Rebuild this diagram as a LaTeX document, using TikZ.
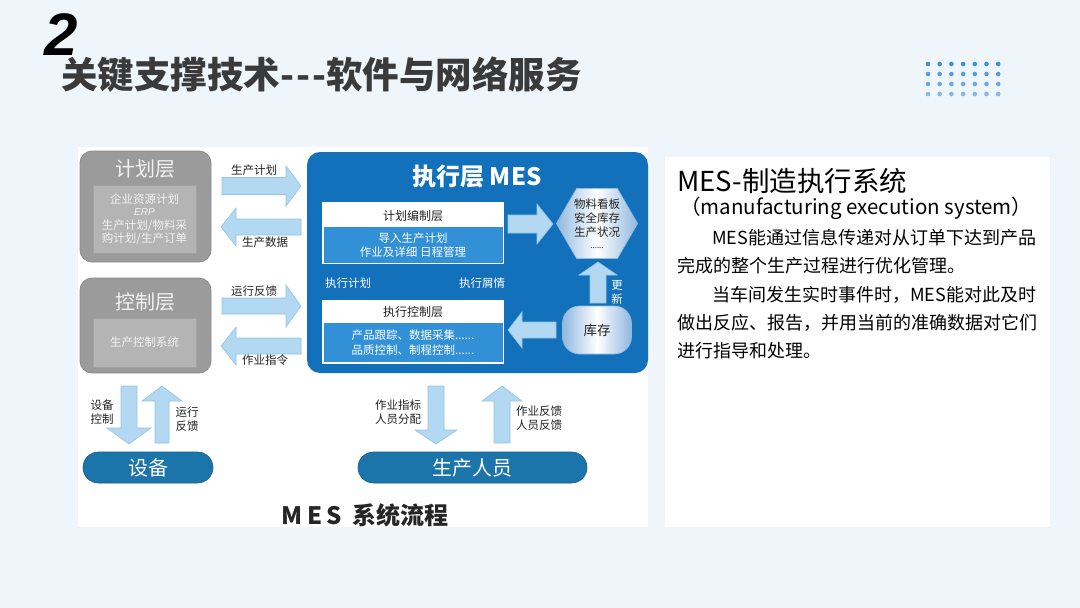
\documentclass[tikz,border=0pt]{standalone}
\usepackage{fontspec}
\setmainfont{Noto Sans CJK SC}
\newfontfamily\numfont{Liberation Sans}
\usetikzlibrary{shapes.geometric}
\definecolor{bg}{HTML}{EEF5FB}
\definecolor{ttlc}{HTML}{3A3A3A}
\definecolor{boxg}{HTML}{9B9B9B}
\definecolor{boxge}{HTML}{8C8C8C}
\definecolor{inng}{HTML}{B4B4B4}
\definecolor{innge}{HTML}{A2A2A2}
\definecolor{gtxt}{HTML}{F2F2F2}
\definecolor{mesblue}{HTML}{1271BA}
\definecolor{bandblue}{HTML}{3190D6}
\definecolor{arrf}{HTML}{B3D8F2}
\definecolor{arre}{HTML}{93C4E8}
\definecolor{pillblue}{HTML}{1B74AA}
\definecolor{pille}{HTML}{135F8E}
\definecolor{hexe}{HTML}{8FB8DF}
\definecolor{lblc}{HTML}{222222}
\definecolor{dotd}{HTML}{3A8EE6}
\definecolor{dotl}{HTML}{8CBBEA}
\newcommand\fsz[2]{\fontsize{#1}{#2}\selectfont}
% block arrows
\newcommand\RArr[6]{\filldraw[arr] (#1,{#3-#4}) -- ({#2-#6},{#3-#4}) -- ({#2-#6},{#3-#5}) -- (#2,#3) -- ({#2-#6},{#3+#5}) -- ({#2-#6},{#3+#4}) -- (#1,{#3+#4}) -- cycle;}
\newcommand\LArr[6]{\filldraw[arr] (#1,#3) -- ({#1+#6},{#3-#5}) -- ({#1+#6},{#3-#4}) -- (#2,{#3-#4}) -- (#2,{#3+#4}) -- ({#1+#6},{#3+#4}) -- ({#1+#6},{#3+#5}) -- cycle;}
\newcommand\DArr[6]{\filldraw[arr] ({#1-#4},#2) -- ({#1+#4},#2) -- ({#1+#4},{#3-#6}) -- ({#1+#5},{#3-#6}) -- (#1,#3) -- ({#1-#5},{#3-#6}) -- ({#1-#4},{#3-#6}) -- cycle;}
\newcommand\UArr[6]{\filldraw[arr] ({#1-#4},#2) -- ({#1+#4},#2) -- ({#1+#4},{#3+#6}) -- ({#1+#5},{#3+#6}) -- (#1,#3) -- ({#1-#5},{#3+#6}) -- ({#1-#4},{#3+#6}) -- cycle;}
\begin{document}
\begin{tikzpicture}[x=1pt,y=-1pt,
  arr/.style={fill=arrf,draw=arre,line width=0.6pt},
  outerg/.style={rectangle,rounded corners=12pt,fill=boxg,draw=boxge,line width=0.8pt,inner sep=0pt},
  innerg/.style={rectangle,fill=inng,draw=innge,line width=0.8pt,inner sep=0pt,text=gtxt,align=center,font=\fsz{11.5}{13.5}},
  grayttl/.style={text=gtxt,font=\fsz{20}{22},inner sep=0pt},
  lbl/.style={text=lblc,font=\fsz{11.5}{14},inner sep=0pt,align=center},
  wlbl/.style={text=white,font=\fsz{11.5}{14},inner sep=0pt,align=center},
  whitebox/.style={rectangle,fill=white,draw=none,inner sep=0pt},
  band/.style={rectangle,fill=bandblue,inner sep=0pt,text=white,align=center,font=\fsz{11.5}{14.5}},
  pill/.style={rectangle,rounded corners=15.5pt,fill=pillblue,draw=pille,line width=0.6pt,text=white,font=\fsz{20}{22},inner sep=0pt,minimum height=31pt},
  bodytxt/.style={text=black,font=\fsz{18}{20},inner sep=0pt,anchor=west}
]
\useasboundingbox (0,0) rectangle (1080,608);
\fill[bg] (0,0) rectangle (1080,608);
% dots
\foreach \c in {0,...,6}{\foreach \r in {0,...,3}{
  \pgfmathsetmacro\pc{100-\r*30}
  \fill[dotd!\pc!dotl] ({928+\c*11.7},{64+\r*10}) circle (2.3);}}
% title
\node[inner sep=0pt,text=black,font=\numfont\bfseries\itshape\fsz{60}{60}] (num) at (61,35) {2};
\node[inner sep=0pt,anchor=west,text=ttlc,font=\bfseries\fsz{36.5}{38}] (title) at (61,75) {关键支撑技术-\kern2pt-\kern2pt-软件与网络服务};
% panels
\fill[white] (78,147) rectangle (648,527);
\fill[white] (665,157) rectangle (1050,527);
% planning layer
\node[outerg,minimum width=131pt,minimum height=111pt] (plan) at (145.5,206.5) {};
\node[grayttl] (planT) at (145,169) {计划层};
\node[innerg,minimum width=103pt,minimum height=68pt] (planIn) at (144.5,219) {企业资源计划\\[-1pt]{\numfont\itshape\fsz{10}{11}ERP}\\生产计划/物料采\\购计划/生产订单};
% control layer
\node[outerg,minimum width=131pt,minimum height=95pt] (ctl) at (145.5,325.5) {};
\node[grayttl] (ctlT) at (145,302) {控制层};
\node[innerg,minimum width=103pt,minimum height=49pt] (ctlIn) at (144.5,342.5) {生产控制系统};
% arrows between left and MES
\RArr{222}{301}{186}{8.5}{20}{15}
\node[lbl] (l1) at (254,170) {生产计划};
\LArr{221}{301}{227}{8}{19}{15}
\node[lbl] (l2) at (265,242) {生产数据};
\RArr{222}{301}{306}{8}{21}{15}
\node[lbl] (l3) at (254,291) {运行反馈};
\LArr{221}{301}{346}{8}{19}{15}
\node[lbl] (l4) at (265,360) {作业指令};
% MES box
\node[rectangle,rounded corners=13pt,fill=mesblue,inner sep=0pt,minimum width=341pt,minimum height=221pt] (mes) at (477.5,262.5) {};
\node[inner sep=0pt,text=white,font=\bfseries\fsz{24}{26}] (mesT) at (477,177) {执行层 MES};
\node[whitebox,minimum width=182pt,minimum height=62pt] (pe) at (413,233) {};
\node[lbl,font=\fsz{12}{14}] (peT) at (413,216) {计划编制层};
\node[band,minimum width=179pt,minimum height=36pt] (peB) at (413,245) {导入生产计划\\作业及详细 日程管理};
\node[wlbl] (ep) at (348,283) {执行计划};
\node[wlbl] (es) at (482,283) {执行屑情};
\node[whitebox,minimum width=182pt,minimum height=64pt] (ec) at (413,332) {};
\node[lbl,font=\fsz{12}{14}] (ecT) at (413,312) {执行控制层};
\node[band,minimum width=179pt,minimum height=39pt] (ecB) at (413,342.5) {产品跟踪、数据采集......\\品质控制、制程控制......};
% hexagon and stock
\node[regular polygon,regular polygon sides=6,minimum size=80pt,inner sep=0pt,draw=hexe,line width=0.6pt,left color=hexe,right color=hexe,middle color=white,text=lblc,align=center,font=\fsz{11.5}{14}] (hex) at (597,223.5) {物料看板\\安全库存\\生产状况\\[-2pt]{\fsz{8}{8}......}};
\node[rectangle,rounded corners=17pt,minimum width=69pt,minimum height=48pt,inner sep=0pt,draw=hexe,line width=0.6pt,left color=hexe,right color=hexe,middle color=white,text=lblc,font=\fsz{13.5}{15}] (stock) at (597,330) {库存};
\RArr{508}{553}{224}{9}{20}{16}
\UArr{598}{303}{262}{8}{19}{13}
\node[wlbl] (upd) at (617,292) {更\\新};
\LArr{508}{556}{330}{8}{18}{14}
% bottom
\DArr{129}{386}{444}{8}{22}{16}
\UArr{162}{443}{386}{7}{20}{15}
\node[lbl] (b1) at (102,412.5) {设备\\控制};
\node[lbl] (b2) at (187,419.5) {运行\\反馈};
\DArr{436}{386}{444}{8}{21}{14}
\UArr{502}{443}{386}{8}{20}{15}
\node[lbl] (b3) at (398,412.5) {作业指标\\人员分配};
\node[lbl] (b4) at (539,418.5) {作业反馈\\人员反馈};
\node[pill,minimum width=130pt] (dev) at (148,467.5) {设备};
\node[pill,minimum width=229pt] (staff) at (472.5,467.5) {生产人员};
\node[inner sep=0pt,text=black!85,font=\bfseries\fsz{24}{26}] (flow) at (365,515) {M\hspace{4.5pt}E\hspace{4.5pt}S\hspace{10pt}系统流程};
% right text
\node[inner sep=0pt,anchor=west,text=black,font=\fsz{27.5}{29}] (rt1) at (677,181) {MES-制造执行系统};
\node[inner sep=0pt,anchor=west,text=black,font=\fsz{20.5}{22}] (rt2) at (680,208) {（manufacturing execution system）};
\node[bodytxt] (p1) at (712,238) {MES能通过信息传递对从订单下达到产品};
\node[bodytxt] (p2) at (677,266) {完成的整个生产过程进行优化管理。};
\node[bodytxt] (p3) at (712,295) {当车间发生实时事件时，MES能对此及时};
\node[bodytxt] (p4) at (677,323) {做出反应、报告，并用当前的准确数据对它们};
\node[bodytxt] (p5) at (677,351) {进行指导和处理。};
\end{tikzpicture}
\end{document}
